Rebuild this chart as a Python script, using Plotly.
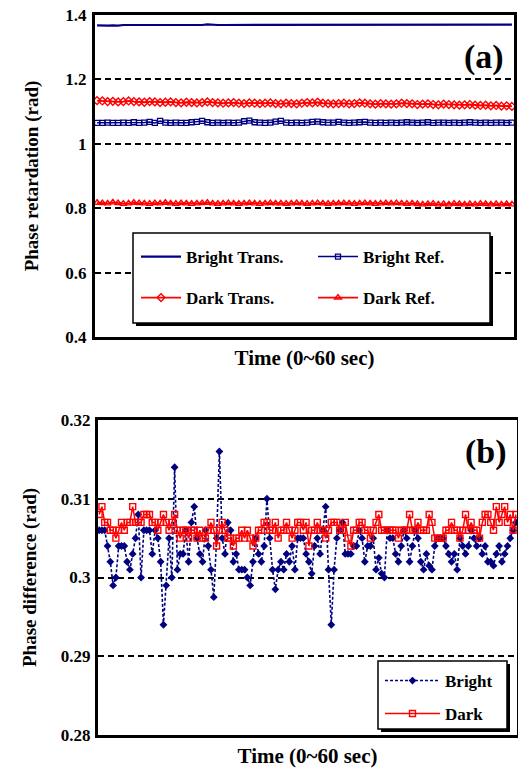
import plotly.graph_objects as go

# ---------------- data ----------------
# panel (a): 80 samples over 0~60 s
bright_trans = [1.368,1.367,1.367,1.368,1.367,1.369,1.369,1.369,1.369,1.369,1.369,1.369,1.369,1.367,1.369,1.369,1.369,1.369,1.369,1.369,
                1.369,1.371,1.369,1.369,1.369,1.369,1.369,1.369,1.369,1.369,1.371,1.369,1.369,1.369,1.369,1.369,1.369,1.369,1.371,1.369,
                1.369,1.369,1.371,1.369,1.369,1.369,1.369,1.369,1.369,1.369,1.369,1.369,1.369,1.369,1.369,1.369,1.369,1.369,1.369,1.369,
                1.369,1.371,1.369,1.369,1.369,1.369,1.371,1.369,1.369,1.370,1.370,1.370,1.370,1.370,1.369,1.369,1.369,1.370,1.370,1.370]
bright_ref = [1.065,1.065,1.066,1.065,1.065,1.066,1.065,1.067,1.065,1.066,1.068,1.065,1.071,1.066,1.065,1.066,1.065,1.065,1.067,1.068,
              1.071,1.067,1.065,1.066,1.065,1.066,1.065,1.066,1.070,1.072,1.067,1.066,1.065,1.066,1.069,1.071,1.066,1.065,1.066,1.065,
              1.066,1.068,1.069,1.067,1.066,1.066,1.068,1.066,1.065,1.066,1.067,1.068,1.066,1.065,1.066,1.065,1.066,1.065,1.066,1.067,
              1.066,1.065,1.066,1.067,1.065,1.066,1.066,1.065,1.066,1.065,1.066,1.067,1.066,1.065,1.066,1.065,1.066,1.066,1.065,1.066]
dark_trans = [1.134,1.133,1.131,1.132,1.130,1.131,1.133,1.131,1.130,1.129,1.131,1.130,1.128,1.129,1.130,1.128,1.127,1.129,1.128,1.127,
              1.128,1.130,1.128,1.127,1.126,1.127,1.128,1.126,1.125,1.127,1.126,1.125,1.126,1.127,1.125,1.124,1.126,1.125,1.124,1.126,
              1.128,1.127,1.129,1.126,1.125,1.124,1.125,1.126,1.124,1.125,1.127,1.126,1.124,1.123,1.125,1.124,1.123,1.124,1.126,1.125,
              1.124,1.122,1.123,1.124,1.122,1.121,1.123,1.122,1.121,1.120,1.121,1.122,1.120,1.119,1.120,1.118,1.119,1.117,1.118,1.116]
dark_ref = [0.817,0.816,0.815,0.818,0.816,0.814,0.815,0.817,0.816,0.815,0.814,0.816,0.815,0.817,0.815,0.814,0.816,0.815,0.814,0.815,
            0.816,0.817,0.815,0.814,0.815,0.816,0.815,0.814,0.815,0.816,0.815,0.814,0.815,0.816,0.815,0.815,0.814,0.815,0.816,0.815,
            0.814,0.815,0.816,0.815,0.814,0.815,0.815,0.816,0.815,0.814,0.815,0.816,0.815,0.814,0.815,0.816,0.815,0.816,0.815,0.814,
            0.815,0.813,0.812,0.813,0.814,0.812,0.813,0.812,0.814,0.813,0.812,0.813,0.812,0.814,0.813,0.812,0.813,0.812,0.813,0.812]
time_a = list(range(len(bright_trans)))

# panel (b): 150 samples over 0~60 s
bright_diff = [0.306,0.306,0.306,0.304,0.302,0.299,0.300,0.304,0.304,0.304,0.302,0.301,0.303,0.305,0.308,0.300,0.306,0.306,0.306,0.303,
               0.306,0.305,0.302,0.294,0.299,0.305,0.300,0.314,0.301,0.303,0.303,0.306,0.302,0.307,0.309,0.305,0.303,0.302,0.306,0.304,
               0.301,0.2975,0.305,0.316,0.305,0.303,0.307,0.306,0.302,0.303,0.301,0.301,0.301,0.300,0.299,0.302,0.305,0.303,0.302,0.304,
               0.310,0.305,0.301,0.2985,0.301,0.302,0.301,0.303,0.302,0.304,0.301,0.305,0.305,0.305,0.303,0.302,0.3005,0.304,0.305,0.303,
               0.306,0.309,0.301,0.294,0.301,0.305,0.306,0.307,0.303,0.303,0.303,0.304,0.304,0.306,0.305,0.302,0.304,0.304,0.305,0.301,
               0.3025,0.3005,0.300,0.306,0.305,0.305,0.303,0.302,0.304,0.306,0.305,0.302,0.304,0.306,0.305,0.302,0.301,0.303,0.3015,0.301,
               0.304,0.305,0.305,0.305,0.304,0.303,0.302,0.303,0.301,0.305,0.304,0.303,0.304,0.306,0.305,0.304,0.305,0.303,0.304,0.302,
               0.302,0.3015,0.303,0.304,0.302,0.303,0.304,0.305,0.306,0.307]
dark_diff = [0.308,0.309,0.307,0.307,0.306,0.306,0.305,0.306,0.307,0.306,0.307,0.307,0.309,0.307,0.307,0.307,0.308,0.308,0.308,0.307,
             0.307,0.306,0.307,0.308,0.307,0.306,0.307,0.308,0.306,0.305,0.306,0.306,0.305,0.306,0.306,0.305,0.306,0.305,0.305,0.306,
             0.307,0.306,0.304,0.306,0.307,0.306,0.305,0.305,0.304,0.305,0.305,0.306,0.305,0.306,0.305,0.304,0.305,0.306,0.306,0.307,
             0.307,0.306,0.306,0.307,0.305,0.306,0.306,0.307,0.306,0.305,0.306,0.307,0.307,0.306,0.307,0.304,0.306,0.306,0.307,0.306,
             0.306,0.305,0.306,0.307,0.307,0.307,0.306,0.306,0.307,0.305,0.304,0.306,0.306,0.307,0.307,0.306,0.306,0.305,0.306,0.307,
             0.308,0.306,0.306,0.306,0.306,0.306,0.306,0.305,0.306,0.306,0.306,0.308,0.306,0.306,0.307,0.306,0.306,0.306,0.308,0.307,
             0.305,0.305,0.305,0.305,0.306,0.306,0.307,0.306,0.306,0.305,0.306,0.308,0.306,0.307,0.306,0.306,0.305,0.307,0.308,0.308,
             0.307,0.306,0.309,0.307,0.308,0.309,0.307,0.308,0.306,0.308]
time_b = list(range(len(bright_diff)))

ticks_a = [0.4, 0.6, 0.8, 1.0, 1.2, 1.4]
ticklabels_a = ["0.4", "0.6", "0.8", "1", "1.2", "1.4"]
ticks_b = [0.28, 0.29, 0.30, 0.31, 0.32]
ticklabels_b = ["0.28", "0.29", "0.3", "0.31", "0.32"]

# ---------------- helpers (pixel -> paper) ----------------
W, H = 518, 770
def px(x): return x / W
def py(y): return 1 - y / H

NAVY = "#000080"
RED = "#FF0000"
FONT = "Times New Roman, Liberation Serif, serif"

fig = go.Figure()

# panel (a)
fig.add_trace(go.Scatter(x=time_a, y=bright_trans, name="Bright Trans.", mode="lines",
                         line=dict(color=NAVY, width=2.2), xaxis="x", yaxis="y", legend="legend"))
fig.add_trace(go.Scatter(x=time_a, y=bright_ref, name="Bright Ref.", mode="lines+markers",
                         line=dict(color=NAVY, width=1.5),
                         marker=dict(symbol="square-open", size=5, color=NAVY, line=dict(width=1.3)),
                         xaxis="x", yaxis="y", legend="legend2"))
fig.add_trace(go.Scatter(x=time_a, y=dark_trans, name="Dark Trans.", mode="lines+markers",
                         line=dict(color=RED, width=1.8),
                         marker=dict(symbol="diamond-open", size=6, color=RED, line=dict(width=1.4)),
                         xaxis="x", yaxis="y", legend="legend3"))
fig.add_trace(go.Scatter(x=time_a, y=dark_ref, name="Dark Ref.", mode="lines+markers",
                         line=dict(color=RED, width=1.8),
                         marker=dict(symbol="triangle-up-open", size=6, color=RED, line=dict(width=1.4)),
                         xaxis="x", yaxis="y", legend="legend4"))

# panel (b)
fig.add_trace(go.Scatter(x=time_b, y=bright_diff, name="Bright", mode="lines+markers",
                         line=dict(color=NAVY, width=1.6, dash="3px,2px"),
                         marker=dict(symbol="diamond", size=6, color=NAVY),
                         xaxis="x2", yaxis="y2", legend="legend5"))
fig.add_trace(go.Scatter(x=time_b, y=dark_diff, name="Dark", mode="lines+markers",
                         line=dict(color=RED, width=1.5),
                         marker=dict(symbol="square-open", size=6, color=RED, line=dict(width=1.4)),
                         xaxis="x2", yaxis="y2", legend="legend6"))

axis_common = dict(showline=True, linecolor="black", linewidth=3, mirror=True,
                   zeroline=False, ticks="", automargin=False)
tickfont = dict(family=FONT, size=17, color="black", weight="bold")
titlefont = dict(family=FONT, size=19, color="black", weight="bold")
xtitlefont = dict(family=FONT, size=21, color="black", weight="bold")

fig.update_layout(
    width=W, height=H, autosize=False,
    margin=dict(l=0, r=0, t=0, b=0, pad=0, autoexpand=False),
    paper_bgcolor="white", plot_bgcolor="white",
    xaxis=dict(domain=[px(95), px(514)], anchor="y", range=[-0.4, len(time_a) - 0.6],
               showgrid=False, showticklabels=False,
               title=dict(text="Time (0~60 sec)", font=xtitlefont, standoff=12), **axis_common),
    yaxis=dict(domain=[py(337), py(15)], anchor="x", range=[0.4, 1.4],
               tickvals=ticks_a, ticktext=ticklabels_a, tickfont=tickfont, ticklabelstandoff=2,
               showgrid=True, gridcolor="black", gridwidth=1.5, griddash="6px,4px",
               title=dict(text="Phase retardation (rad)", font=titlefont, standoff=22), **axis_common),
    xaxis2=dict(domain=[px(98), px(517)], anchor="y2", range=[-0.4, len(time_b) - 0.6],
                showgrid=False, showticklabels=False,
                title=dict(text="Time (0~60 sec)", font=xtitlefont, standoff=12), **axis_common),
    yaxis2=dict(domain=[py(735), py(420)], anchor="x2", range=[0.28, 0.32],
                tickvals=ticks_b, ticktext=ticklabels_b, tickfont=tickfont, ticklabelstandoff=1,
                showgrid=True, gridcolor="black", gridwidth=1.5, griddash="6px,4px",
                title=dict(text="Phase difference (rad)", font=titlefont, standoff=20), **axis_common),
    showlegend=True,
)

legfont = dict(family=FONT, size=17, color="black", weight="bold")
def leg(x, y, iw):
    return dict(x=px(x), y=py(y), xanchor="left", yanchor="middle", orientation="h",
                bgcolor="rgba(0,0,0,0)", borderwidth=0, font=legfont, itemwidth=iw,
                itemclick=False, itemdoubleclick=False)

fig.update_layout(
    legend=leg(136, 257, 40),
    legend2=leg(313, 257, 40),
    legend3=leg(136, 298, 40),
    legend4=leg(313, 298, 40),
    legend5=leg(380, 681, 55),
    legend6=leg(380, 714, 55),
)

# legend frames (with shadow)
shapes = []
for (x0, y0, x1, y1) in [(133, 233, 490, 323), (378, 661, 507, 729)]:
    shapes.append(dict(type="rect", xref="paper", yref="paper", layer="above",
                       x0=px(x0 + 3), x1=px(x1 + 3), y0=py(y1 + 3), y1=py(y0 + 3),
                       fillcolor="black", line=dict(width=0)))
    shapes.append(dict(type="rect", xref="paper", yref="paper", layer="above",
                       x0=px(x0), x1=px(x1), y0=py(y1), y1=py(y0),
                       fillcolor="white", line=dict(color="black", width=1.5)))
fig.update_layout(shapes=shapes)

fig.add_annotation(text="(a)", xref="paper", yref="paper", x=px(484), y=py(57),
                   xanchor="center", yanchor="middle", showarrow=False,
                   font=dict(family=FONT, size=34, color="black", weight="bold"))
fig.add_annotation(text="(b)", xref="paper", yref="paper", x=px(486), y=py(452),
                   xanchor="center", yanchor="middle", showarrow=False,
                   font=dict(family=FONT, size=34, color="black", weight="bold"))

fig.write_html("out.html", config={"displayModeBar": False},
               post_script="document.body.style.margin='0';document.body.style.overflow='hidden';")
